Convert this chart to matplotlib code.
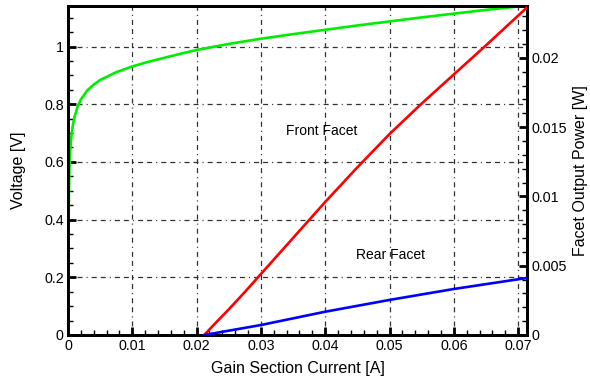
import matplotlib
matplotlib.use("Agg")
import matplotlib.pyplot as plt
from matplotlib.ticker import MultipleLocator

plt.rcParams['font.family'] = ['Liberation Sans', 'DejaVu Sans']
plt.rcParams['lines.scale_dashes'] = False

# Data
current_v = [0.0, 0.00003, 0.00006, 0.0001, 0.00015, 0.0002, 0.0003, 0.0005, 0.0007,
             0.001, 0.0015, 0.002, 0.003, 0.004, 0.005, 0.0075, 0.01, 0.0125, 0.015,
             0.0175, 0.02, 0.025, 0.03, 0.035, 0.04, 0.045, 0.05, 0.055, 0.06, 0.065, 0.0713]
voltage = [0.0, 0.10, 0.25, 0.40, 0.50, 0.56, 0.625, 0.685, 0.72,
           0.755, 0.792, 0.816, 0.848, 0.868, 0.884, 0.911, 0.931, 0.947, 0.961,
           0.975, 0.988, 1.009, 1.027, 1.043, 1.058, 1.073, 1.087, 1.101, 1.114, 1.127, 1.142]

current_p = [0.0212, 0.0225, 0.025, 0.0275, 0.03, 0.035, 0.04, 0.045, 0.05, 0.055, 0.06, 0.065, 0.0713]
front_power = [0.0, 0.00065, 0.00185, 0.0031, 0.0044, 0.0070, 0.0096, 0.0121, 0.0145, 0.0167, 0.0188, 0.0209, 0.0236]

current_r = [0.0212, 0.03, 0.04, 0.05, 0.06, 0.0713]
rear_power = [0.0, 0.00072, 0.00168, 0.00253, 0.00332, 0.00411]

x_ticks = [0, 0.01, 0.02, 0.03, 0.04, 0.05, 0.06, 0.07]
x_labels = ['0', '0.01', '0.02', '0.03', '0.04', '0.05', '0.06', '0.07']
v_ticks = [0, 0.2, 0.4, 0.6, 0.8, 1.0]
v_labels = ['0', '0.2', '0.4', '0.6', '0.8', '1']
p_ticks = [0, 0.005, 0.01, 0.015, 0.02]
p_labels = ['0', '0.005', '0.01', '0.015', '0.02']

fig = plt.figure(figsize=(5.9, 3.88), dpi=100)
ax = fig.add_axes([68/590, 53/388, 459/590, 329/388])
ax2 = ax.twinx()

ax.set_xlim(0, 0.07138)
ax.set_ylim(0, 1.1405)
ax2.set_ylim(0, 0.02374)

grid_dash = (0, (3.6, 2.9, 3.6, 2.9, 0.8, 2.9))
for xt in x_ticks[1:]:
    ax.axvline(xt, color='#333333', lw=0.9, ls=grid_dash, zorder=0)
for vt in v_ticks[1:]:
    ax.axhline(vt, color='#333333', lw=0.9, ls=grid_dash, zorder=0)

ax.plot(current_v, voltage, color='#00ee00', lw=1.9, zorder=3, solid_joinstyle='round')
ax2.plot(current_p, front_power, color='#ff0000', lw=1.9, zorder=3, solid_joinstyle='round')
ax2.plot(current_r, rear_power, color='#0000ff', lw=1.9, zorder=3, solid_joinstyle='round')

ax.set_xticks(x_ticks)
ax.set_xticklabels(x_labels)
ax.set_yticks(v_ticks)
ax.set_yticklabels(v_labels)
ax2.set_yticks(p_ticks)
ax2.set_yticklabels(p_labels)
ax.xaxis.set_minor_locator(MultipleLocator(0.002))
ax.yaxis.set_minor_locator(MultipleLocator(0.05))
ax2.yaxis.set_minor_locator(MultipleLocator(0.001))

fs = 10.3
for a in (ax, ax2):
    a.tick_params(which='major', direction='in', length=6, width=2.0, labelsize=fs, pad=3)
    a.tick_params(which='minor', direction='in', length=3.5, width=1.0)
    for s in a.spines.values():
        s.set_linewidth(2.0)
ax.tick_params(axis='x', which='both', top=False, bottom=True)
ax.tick_params(axis='y', which='both', left=True, right=False)
ax2.tick_params(axis='y', which='both', left=False, right=True)

lfs = 11.5
ax.set_xlabel('Gain Section Current [A]', fontsize=lfs)
ax.set_ylabel('Voltage [V]', fontsize=lfs)
ax2.set_ylabel('Facet Output Power [W]', fontsize=lfs)
ax.xaxis.label.set_va('center')
ax.yaxis.label.set_va('center')
ax2.yaxis.label.set_va('center')
ax.xaxis.set_label_coords(0.5, (335 - 369) / 329)
ax.yaxis.set_label_coords((19 - 68) / 459, 0.5)
ax2.yaxis.set_label_coords((580 - 68) / 459, 0.5)

ax.text(0.0395, 0.707, 'Front Facet', fontsize=10, ha='center', va='center', zorder=5)
ax.text(0.0501, 0.277, 'Rear Facet', fontsize=10, ha='center', va='center', zorder=5)

fig.savefig('out.png', dpi=100)
